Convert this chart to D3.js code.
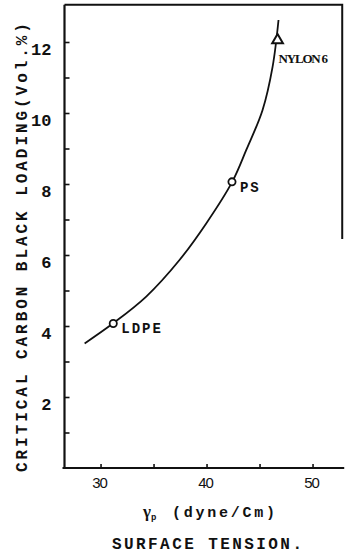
<!DOCTYPE html>
<html>
<head>
<meta charset="utf-8">
<script src="https://cdn.jsdelivr.net/npm/d3@7"></script>
<style>
  body { margin: 0; background: #fff; }
  text { fill: #111; }
</style>
</head>
<body>
<div id="wrapper"></div>
<script>
// values
const curveX = [28.5, 31.16, 34.31, 37.45, 39.97, 42.42, 43.75, 45.28, 46.23, 46.79]
const curveY = [3.51, 4.07, 4.83, 5.86, 6.89, 8.06, 8.96, 10.08, 11.30, 12.62]

const polymers = ["LDPE", "PS", "NYLON 6"]
const polymerX = [31.2, 42.4, 46.7]
const polymerY = [4.07, 8.06, 12.05]
const polymerMarker = ["circle", "circle", "triangle"]

const xTicks = [30, 35, 40, 45, 50]
const xTickLabels = ["30", "", "40", "", "50"]
const yTicks = [1, 2, 3, 4, 5, 6, 7, 8, 9, 10, 11, 12]

let dimensions = {
  width: 346,
  height: 555,
  margin: { top: 4.7, left: 64.5 },
  xDomain: [26.6, 52.8],
  yDomain: [0, 13.05],
  pxPerX: 10.6,
  pxPerY: 35.5,
}
dimensions.axisY = 468

const svg = d3.select("#wrapper")
  .append("svg")
  .attr("width", dimensions.width)
  .attr("height", dimensions.height)

const xScale = d3.scaleLinear()
  .domain(dimensions.xDomain)
  .range([dimensions.margin.left,
    dimensions.margin.left + (dimensions.xDomain[1] - dimensions.xDomain[0]) * dimensions.pxPerX])

const yScale = d3.scaleLinear()
  .domain(dimensions.yDomain)
  .range([dimensions.axisY, dimensions.axisY - dimensions.yDomain[1] * dimensions.pxPerY])

const x0 = xScale.range()[0], x1 = xScale.range()[1]
const y0 = yScale.range()[0], y1 = yScale.range()[1]

// frame: top line and partial right line
svg.append("path")
  .attr("d", `M${x0},${y1}H${x1}V${yScale(6.45)}`)
  .attr("fill", "none")
  .attr("stroke", "#111")
  .attr("stroke-width", 2)

// y axis
const yAxis = d3.axisLeft(yScale)
  .tickValues(yTicks)
  .tickSize(-5)
  .tickPadding(13)
  .tickFormat(d => d % 2 === 0 ? d : "")

const yAxisG = svg.append("g")
  .attr("transform", `translate(${x0},0)`)
  .call(yAxis)
yAxisG.select(".domain").remove()
yAxisG.append("line")
  .attr("y1", y1).attr("y2", y0)
  .attr("stroke", "#111").attr("stroke-width", 2.2)
yAxisG.selectAll(".tick line").attr("stroke", "#111").attr("stroke-width", 1.6)
yAxisG.selectAll(".tick text")
  .attr("dy", "0.85em")
  .attr("y", -2)
  .style("font-family", "'Liberation Mono', monospace")
  .style("font-weight", "bold")
  .style("font-size", "17px")
  .attr("fill", "#111")

// x axis
const xAxis = d3.axisBottom(xScale)
  .tickValues(xTicks)
  .tickSize(-4)
  .tickPadding(9)
  .tickFormat((d, i) => xTickLabels[i])

const xAxisG = svg.append("g")
  .attr("transform", `translate(0,${y0})`)
  .call(xAxis)
xAxisG.select(".domain").remove()
xAxisG.append("line")
  .attr("x1", x0 - 2).attr("x2", x1 + 2)
  .attr("stroke", "#111").attr("stroke-width", 2.2)
xAxisG.selectAll(".tick line").attr("stroke", "#111").attr("stroke-width", 1.6)
xAxisG.selectAll(".tick text")
  .attr("dx", -1.5)
  .style("font-family", "'Liberation Sans', Arial, sans-serif")
  .style("font-size", "15px")
  .style("letter-spacing", "-1px")
  .attr("fill", "#111")

// curve
const curvePoints = curveX.map((x, i) => [x, curveY[i]])
const line = d3.line()
  .x(d => xScale(d[0]))
  .y(d => yScale(d[1]))
  .curve(d3.curveCatmullRom.alpha(0.5))

svg.append("path")
  .datum(curvePoints)
  .attr("d", line)
  .attr("fill", "none")
  .attr("stroke", "#111")
  .attr("stroke-width", 1.8)

// markers
const points = polymers.map((name, i) => ({
  name, x: polymerX[i], y: polymerY[i], marker: polymerMarker[i]
}))

svg.selectAll(".pt-circle")
  .data(points.filter(d => d.marker === "circle"))
  .join("circle")
  .attr("class", "pt-circle")
  .attr("cx", d => xScale(d.x))
  .attr("cy", d => yScale(d.y))
  .attr("r", 3.6)
  .attr("fill", "#fff")
  .attr("stroke", "#111")
  .attr("stroke-width", 1.8)

svg.selectAll(".pt-tri")
  .data(points.filter(d => d.marker === "triangle"))
  .join("path")
  .attr("class", "pt-tri")
  .attr("transform", d => `translate(${xScale(d.x)},${yScale(d.y)})`)
  .attr("d", d3.symbol(d3.symbolTriangle, 50))
  .attr("fill", "#fff")
  .attr("stroke", "#111")
  .attr("stroke-width", 2)

// point labels
svg.selectAll(".pt-label-mono")
  .data(points.filter(d => d.marker === "circle"))
  .join("text")
  .attr("class", "pt-label-mono")
  .attr("x", d => xScale(d.x) + 8)
  .attr("y", d => yScale(d.y) + 5)
  .attr("dy", "0.35em")
  .style("font-family", "'Liberation Mono', monospace")
  .style("font-weight", "bold")
  .style("font-size", "14px")
  .style("letter-spacing", "2px")
  .text(d => d.name)

svg.selectAll(".pt-label-serif")
  .data(points.filter(d => d.marker === "triangle"))
  .join("text")
  .attr("class", "pt-label-serif")
  .attr("x", d => xScale(d.x) + 1)
  .attr("y", d => yScale(d.y) + 18)
  .attr("dy", "0.35em")
  .style("font-family", "'Liberation Serif', 'Times New Roman', serif")
  .style("font-weight", "bold")
  .style("font-size", "13px")
  .style("letter-spacing", "-1.2px")
  .text(d => d.name)

// axis titles
svg.append("text")
  .attr("transform", `translate(27,${(23 + 472) / 2}) rotate(-90)`)
  .attr("text-anchor", "middle")
  .attr("textLength", 449)
  .attr("lengthAdjust", "spacing")
  .style("font-family", "'Liberation Mono', monospace")
  .style("font-weight", "bold")
  .style("font-size", "16px")
  .text("CRITICAL CARBON BLACK LOADING(Vol.%)")

const xTitle = svg.append("text")
  .attr("x", 143)
  .attr("y", 517)
  .style("font-family", "'Liberation Mono', monospace")
  .style("font-weight", "bold")
  .style("font-size", "15px")
xTitle.append("tspan")
  .style("font-family", "'Liberation Serif', serif")
  .style("font-size", "17px")
  .text("γ")
xTitle.append("tspan")
  .attr("dy", 3)
  .style("font-size", "9px")
  .text("p")
xTitle.append("tspan")
  .attr("x", 172)
  .attr("dy", -3)
  .attr("textLength", 103)
  .attr("lengthAdjust", "spacing")
  .text("(dyne/Cm)")

svg.append("text")
  .attr("x", 112)
  .attr("y", 549)
  .attr("textLength", 190)
  .attr("lengthAdjust", "spacing")
  .style("font-family", "'Liberation Mono', monospace")
  .style("font-weight", "bold")
  .style("font-size", "16px")
  .text("SURFACE TENSION.")
</script>
</body>
</html>
